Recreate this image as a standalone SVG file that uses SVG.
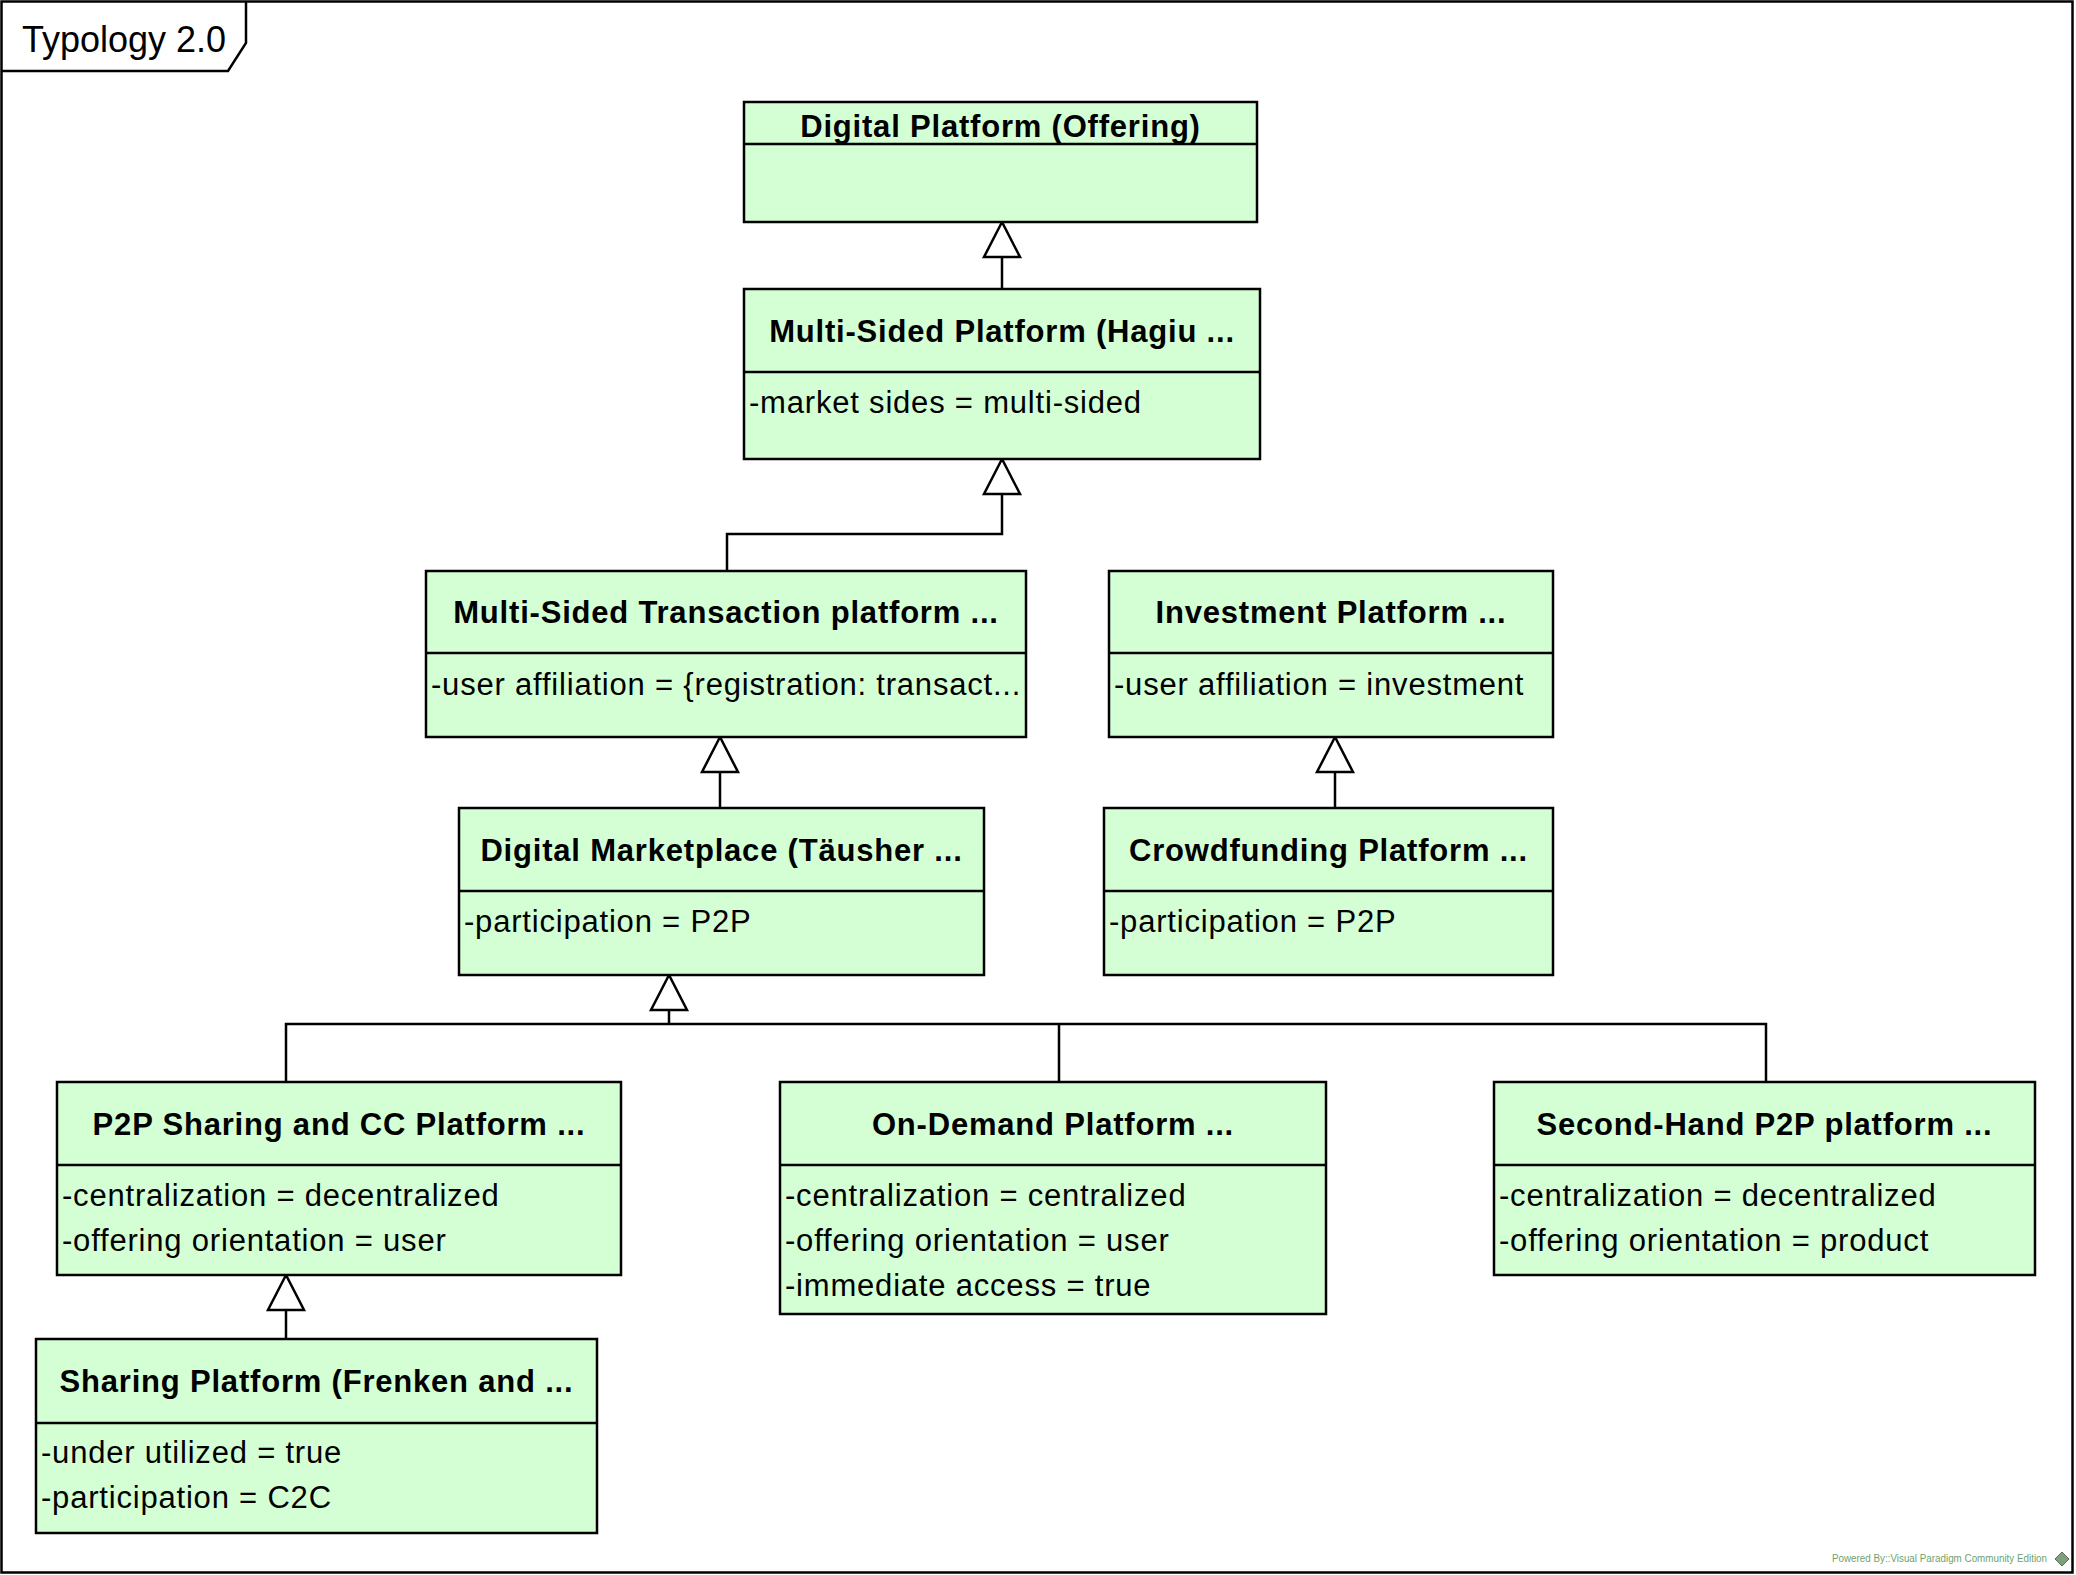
<svg xmlns="http://www.w3.org/2000/svg" width="2076" height="1575" viewBox="0 0 2076 1575">
  <style>
    .box { fill: #D4FFD4; stroke: #000; stroke-width: 2.5; }
    .sep { stroke: #000; stroke-width: 2.5; }
    .name { font-family: "Liberation Sans", Arial, sans-serif; font-size: 31px; font-weight: bold; letter-spacing: 0.8px; text-anchor: middle; fill: #000; }
    .attr { font-family: "Liberation Sans", Arial, sans-serif; font-size: 31px; letter-spacing: 0.8px; fill: #000; }
    .edge { fill: none; stroke: #000; stroke-width: 2.5; }
    .head { fill: #fff; stroke: #000; stroke-width: 2.5; stroke-linejoin: miter; }
    .frame { fill: #fff; stroke: #000; stroke-width: 2.5; }
    .title { font-family: "Liberation Sans", Arial, sans-serif; font-size: 36px; fill: #000; }
    .wm { font-family: "Liberation Sans", Arial, sans-serif; font-size: 10px; fill: #6f9f6f; }
  </style>
  <defs>
    <!-- hollow generalization head, tip at origin pointing up -->
    <polygon id="gen" points="0,0 -18,35 18,35" class="head"/>
  </defs>

  <!-- diagram frame -->
  <g id="frame">
    <rect x="1.5" y="1.5" width="2071" height="1571" class="frame"/>
    <path d="M1.5,71 L228,71 L246,43 L246,1.5" class="edge"/>
    <text x="22" y="52" class="title">Typology 2.0</text>
  </g>

  <!-- generalization connectors -->
  <g id="connectors">
    <path d="M1002,289 L1002,257" class="edge"/>
    <use href="#gen" x="1002" y="222"/>

    <path d="M727,571 L727,534 L1002,534 L1002,494" class="edge"/>
    <use href="#gen" x="1002" y="459"/>

    <path d="M720,808 L720,772" class="edge"/>
    <use href="#gen" x="720" y="737"/>

    <path d="M1335,808 L1335,772" class="edge"/>
    <use href="#gen" x="1335" y="737"/>

    <path d="M286,1082 L286,1024 L1766,1024 L1766,1082 M1059,1024 L1059,1082 M669,1024 L669,1010" class="edge"/>
    <use href="#gen" x="669" y="975"/>

    <path d="M286,1339 L286,1310" class="edge"/>
    <use href="#gen" x="286" y="1275"/>
  </g>

  <g id="digital-platform">
    <rect x="744" y="102" width="513" height="120" class="box"/>
    <line x1="744" y1="144" x2="1257" y2="144" class="sep"/>
    <text x="1000.5" y="137" class="name">Digital Platform (Offering)</text>
  </g>

  <g id="multi-sided-platform">
    <rect x="744" y="289" width="516" height="170" class="box"/>
    <line x1="744" y1="372" x2="1260" y2="372" class="sep"/>
    <text x="1002" y="342" class="name">Multi-Sided Platform (Hagiu ...</text>
    <text x="749" y="413" class="attr">-market sides = multi-sided</text>
  </g>

  <g id="multi-sided-transaction-platform">
    <rect x="426" y="571" width="600" height="166" class="box"/>
    <line x1="426" y1="653" x2="1026" y2="653" class="sep"/>
    <text x="726" y="623" class="name">Multi-Sided Transaction platform ...</text>
    <text x="431" y="695" class="attr">-user affiliation = {registration: transact...</text>
  </g>

  <g id="investment-platform">
    <rect x="1109" y="571" width="444" height="166" class="box"/>
    <line x1="1109" y1="653" x2="1553" y2="653" class="sep"/>
    <text x="1331" y="623" class="name">Investment Platform ...</text>
    <text x="1114" y="695" class="attr">-user affiliation = investment</text>
  </g>

  <g id="digital-marketplace">
    <rect x="459" y="808" width="525" height="167" class="box"/>
    <line x1="459" y1="891" x2="984" y2="891" class="sep"/>
    <text x="721.5" y="861" class="name">Digital Marketplace (Täusher ...</text>
    <text x="464" y="932" class="attr">-participation = P2P</text>
  </g>

  <g id="crowdfunding-platform">
    <rect x="1104" y="808" width="449" height="167" class="box"/>
    <line x1="1104" y1="891" x2="1553" y2="891" class="sep"/>
    <text x="1328.5" y="861" class="name">Crowdfunding Platform ...</text>
    <text x="1109" y="932" class="attr">-participation = P2P</text>
  </g>

  <g id="p2p-sharing-cc-platform">
    <rect x="57" y="1082" width="564" height="193" class="box"/>
    <line x1="57" y1="1165" x2="621" y2="1165" class="sep"/>
    <text x="339" y="1135" class="name">P2P Sharing and CC Platform ...</text>
    <text x="62" y="1206" class="attr">-centralization = decentralized</text>
    <text x="62" y="1251" class="attr">-offering orientation = user</text>
  </g>

  <g id="on-demand-platform">
    <rect x="780" y="1082" width="546" height="232" class="box"/>
    <line x1="780" y1="1165" x2="1326" y2="1165" class="sep"/>
    <text x="1053" y="1135" class="name">On-Demand Platform ...</text>
    <text x="785" y="1206" class="attr">-centralization = centralized</text>
    <text x="785" y="1251" class="attr">-offering orientation = user</text>
    <text x="785" y="1296" class="attr">-immediate access = true</text>
  </g>

  <g id="second-hand-p2p-platform">
    <rect x="1494" y="1082" width="541" height="193" class="box"/>
    <line x1="1494" y1="1165" x2="2035" y2="1165" class="sep"/>
    <text x="1764.5" y="1135" class="name">Second-Hand P2P platform ...</text>
    <text x="1499" y="1206" class="attr">-centralization = decentralized</text>
    <text x="1499" y="1251" class="attr">-offering orientation = product</text>
  </g>

  <g id="sharing-platform">
    <rect x="36" y="1339" width="561" height="194" class="box"/>
    <line x1="36" y1="1423" x2="597" y2="1423" class="sep"/>
    <text x="316.5" y="1392" class="name">Sharing Platform (Frenken and ...</text>
    <text x="41" y="1463" class="attr">-under utilized = true</text>
    <text x="41" y="1508" class="attr">-participation = C2C</text>
  </g>

  <!-- tool watermark -->
  <g id="watermark">
    <text x="1832" y="1562" class="wm" textLength="215" lengthAdjust="spacingAndGlyphs">Powered By::Visual Paradigm Community Edition</text>
    <polygon points="2062,1552 2069,1559 2062,1566 2055,1559" fill="#7f9f7f" stroke="#4f6f4f" stroke-width="1"/>
  </g>
</svg>
